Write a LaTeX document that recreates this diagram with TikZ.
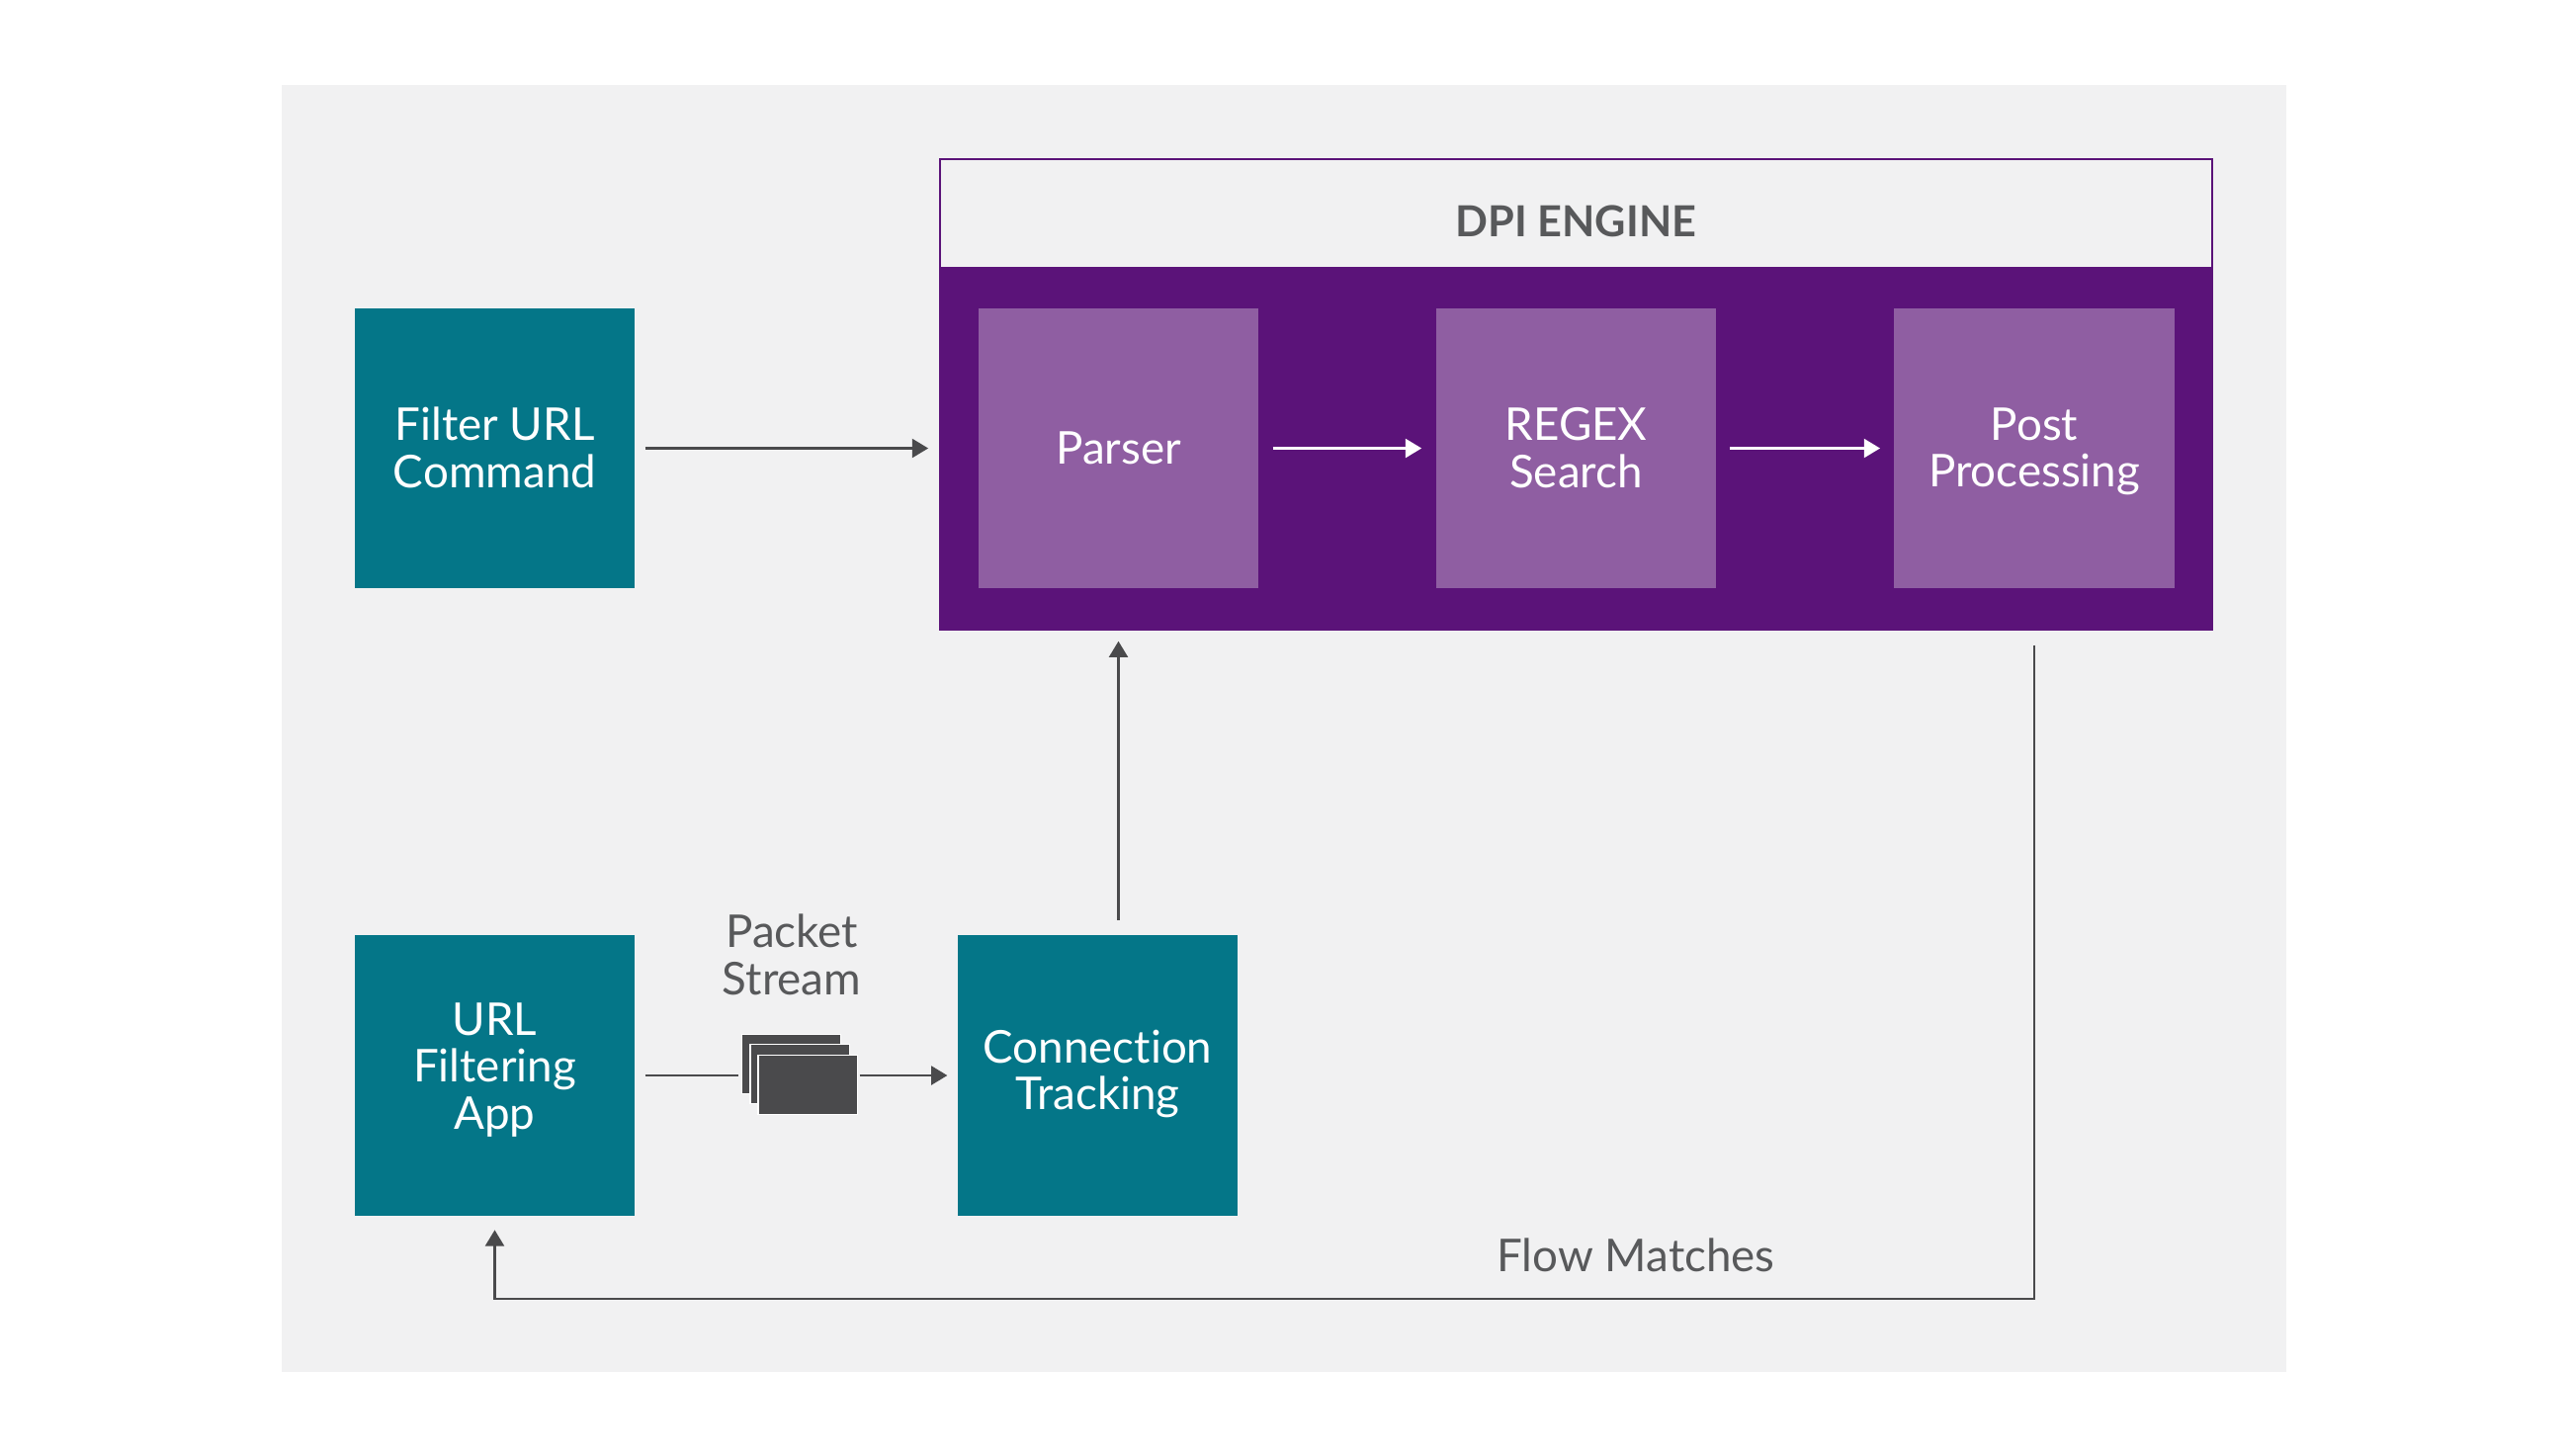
\documentclass[tikz,border=0pt]{standalone}
\usepackage{fontspec}
\setmainfont{Lato}[Ligatures={NoCommon}]
\usetikzlibrary{arrows.meta}
\definecolor{panelc}{HTML}{F1F1F2}
\definecolor{tealc}{HTML}{047688}
\definecolor{purplec}{HTML}{5B1379}
\definecolor{lilac}{HTML}{8F5EA2}
\definecolor{inkc}{HTML}{58595B}
\definecolor{linec}{HTML}{4A4A4C}
\newcommand{\ls}{\rule[-2.2pt]{0pt}{13.5pt}}
\newcommand{\lsx}[1]{\rule[-#1]{0pt}{10.85pt}}
\tikzset{
  x=0.01cm,y=-0.01cm,
  box/.style={draw=none,inner sep=0pt,minimum width=2.83cm,minimum height=2.83cm,align=center,text=white,font=\fontsize{13}{13.5}\selectfont},
  tealbox/.style={box,fill=tealc},
  lilacbox/.style={box,fill=lilac},
  lab/.style={inner sep=0pt,align=center,text=inkc,font=\fontsize{13}{13.5}\selectfont},
  conn/.style={draw=linec,line width=0.6pt,-{Triangle[length=4.6pt,width=5.4pt]}},
  wconn/.style={draw=white,line width=0.6pt,-{Triangle[length=4.6pt,width=5.4pt]}},
  sheet/.style={fill=linec,draw=white,line width=0.3pt,inner sep=0pt,minimum width=1cm,minimum height=0.6cm},
}
\begin{document}
\begin{tikzpicture}
\useasboundingbox (0,0) rectangle (2600,1472);
\fill[white] (0,0) rectangle (2600,1472);
\fill[panelc] (285,86) rectangle (2313,1388);
% engine
\node[fill=purplec,inner sep=0pt,minimum width=12.89cm,minimum height=4.78cm] (engine) at (1594.5,399) {};
\node[fill=panelc,inner sep=0pt,minimum width=12.85cm,minimum height=1.08cm,text=inkc,font=\fontsize{12.3}{13.5}\selectfont\bfseries] (dpi) at (1594.5,216) {\rule{0pt}{13.3pt}DPI ENGINE};
% boxes
\node[lilacbox] (parser) at (1131.5,453.5) {\ls Parser};
\node[lilacbox] (regex) at (1594.5,453.5) {\ls REGEX\\\ls Search};
\node[lilacbox] (post) at (2058,453.5) {\ls Post\\\ls Processing};
\node[tealbox] (filter) at (500.5,453.5) {\ls Filter URL\\\ls Command};
\node[tealbox] (url) at (500.5,1088) {\ls URL\\\ls Filtering\\\lsx{7.35pt}App};
\node[tealbox] (track) at (1110.5,1088) {\ls Connection\\\lsx{5.05pt}Tracking};
% packet stack
\node[sheet] (p1) at (800.5,1076.5) {};
\node[sheet] (p2) at (809,1086.5) {};
\node[sheet] (p3) at (817,1097.5) {};
% labels
\node[lab] (packet) at (801,966.5) {\ls Packet\\\ls Stream};
\node[lab] (flow) at (1655,1270) {\ls Flow Matches};
% connectors
\draw[conn,shorten <=2.8pt,shorten >=2.8pt] (filter.east) -- (engine.west |- filter.east);
\draw[wconn,shorten <=3.9pt,shorten >=4pt] (parser.east) -- (regex.west);
\draw[wconn,shorten <=3.7pt,shorten >=3.9pt] (regex.east) -- (post.west);
\draw[conn,shorten <=4.2pt,shorten >=2.8pt] (track.north -| parser.south) -- (parser.south |- engine.south);
\coordinate (fcorner) at (2058,1314);
\draw[conn,shorten <=3.9pt,shorten >=4pt] (post.south |- engine.south) -- (fcorner) -| (url.south);
\draw[draw=linec,line width=0.6pt,shorten <=2.8pt,shorten >=0.9pt] (url.east) -- (url.east -| p1.west);
\draw[conn,shorten <=0.6pt,shorten >=2.8pt] (p3.east |- track.west) -- (track.west);
\end{tikzpicture}
\end{document}
